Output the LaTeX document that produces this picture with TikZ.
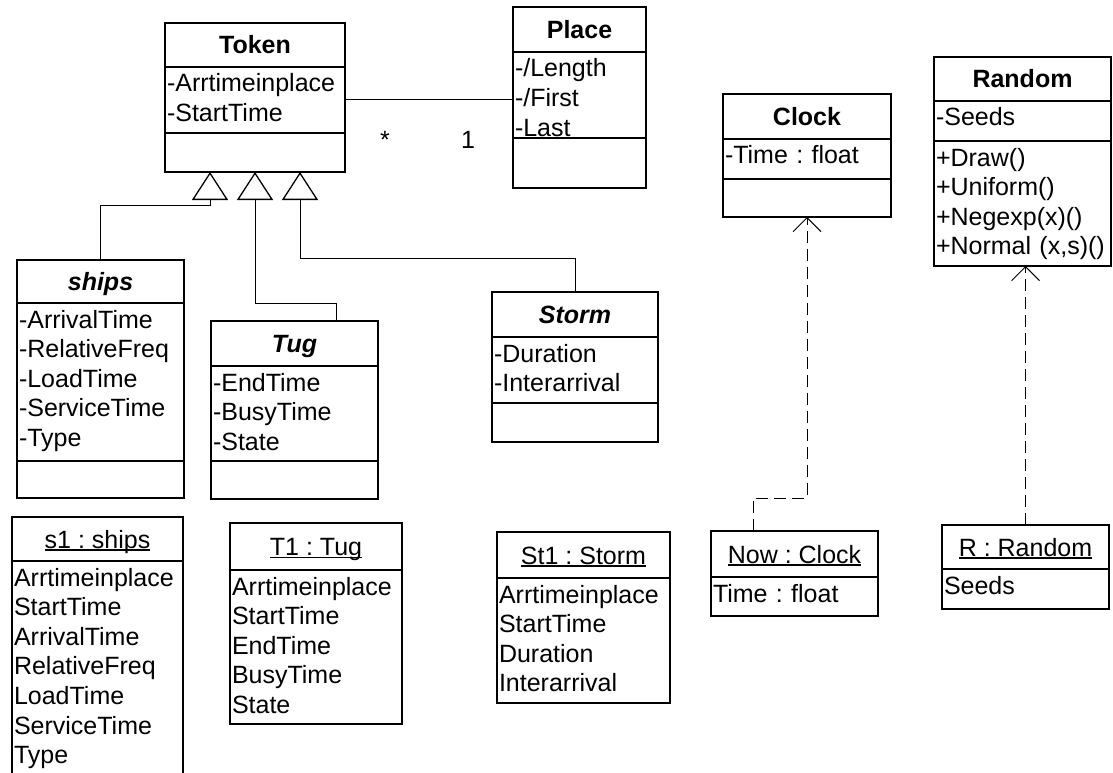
\documentclass[tikz,border=0pt]{standalone}
\usepackage{fontspec}
\setmainfont{Liberation Sans}
\usetikzlibrary{arrows.meta,calc,positioning}

\newcommand{\umlfont}{\fontsize{25pt}{29.6pt}\selectfont\frenchspacing}
\newsavebox{\objbox}
\newcommand{\objname}[1]{\sbox{\objbox}{#1}\rlap{\rule[-2.5pt]{\wd\objbox}{1.2pt}}\usebox{\objbox}}

\tikzset{
  box/.style={draw, line width=2pt, outer sep=0pt, inner xsep=2pt, inner ysep=0pt},
  classhead/.style={box, anchor=north west, minimum width=#1, minimum height=45pt,
    text height=18pt, text depth=0pt, font=\umlfont\bfseries},
  abstracthead/.style={classhead=#1, font=\umlfont\bfseries\itshape},
  objhead/.style={classhead=#1, font=\umlfont},
  attrs/.style 2 args={box, anchor=north, text width=#1, align=left,
    text height=25pt, text depth=#2, font=\umlfont},
  emptybox/.style={box, anchor=north, minimum width=#1, minimum height=38pt},
  gen/.style={line width=1pt, -{Triangle[open, length=28pt, width=36pt, line width=1.3pt]}},
  dep/.style={line width=1pt, dash pattern=on 12pt off 6pt,
    -{Straight Barb[length=14pt, width=28pt, line width=1pt]}},
  assoc/.style={line width=1pt}
}

\begin{document}
\begin{tikzpicture}[x=1pt, y=1pt]

\useasboundingbox (0,0) rectangle (1113,-773);

% Token
\node[classhead=180pt, minimum height=44pt] (tokenhead) at (165,-23) {Token};
\node[attrs={176pt}{41pt}, below=0pt of tokenhead] (tokenattr) {-Arrtimeinplace\\-StartTime};
\node[emptybox=180pt, minimum height=39pt, below=0pt of tokenattr] (tokenops) {};

% Place
\node[classhead=133pt] (placehead) at (513,-7) {Place};
\node[attrs={129pt}{61pt}, below=0pt of placehead] (placeattr) {-/Length\\-/First\\-Last};
\node[emptybox=133pt, minimum height=50pt, below=0pt of placeattr] (placeops) {};

% association Token -- Place
\draw[assoc] (tokenattr.east) -- (tokenattr.east -| placeattr.west);
\node[anchor=base, font=\umlfont] (manytokens) at (385,-148) {*};
\node[anchor=base, font=\umlfont] (oneplace) at (468,-148) {1};

% ships
\node[abstracthead=167pt, minimum height=43pt] (shipshead) at (17,-260) {ships};
\node[attrs={163pt}{133pt}, below=0pt of shipshead] (shipsattr)
  {-ArrivalTime\\-RelativeFreq\\-LoadTime\\-ServiceTime\\-Type};
\node[emptybox=167pt, minimum height=37pt, below=0pt of shipsattr] (shipsops) {};

% Tug
\node[abstracthead=167pt] (tughead) at (211,-321) {Tug};
\node[attrs={163pt}{70pt}, below=0pt of tughead] (tugattr) {-EndTime\\-BusyTime\\-State};
\node[emptybox=167pt, below=0pt of tugattr] (tugops) {};

% Storm
\node[abstracthead=166pt] (stormhead) at (492,-292) {Storm};
\node[attrs={162pt}{41pt}, below=0pt of stormhead] (stormattr) {-Duration\\-Interarrival};
\node[emptybox=166pt, minimum height=39pt, below=0pt of stormattr] (stormops) {};

% Clock
\node[classhead=168pt] (clockhead) at (723,-94) {Clock};
\node[attrs={164pt}{15pt}, below=0pt of clockhead] (clockattr) {-Time : float};
\node[emptybox=168pt, below=0pt of clockattr] (clockops) {};

% Random
\node[classhead=177pt, minimum height=44pt] (randomhead) at (934,-57) {Random};
\node[attrs={173pt}{15pt}, below=0pt of randomhead] (randomattr) {-Seeds};
\node[attrs={173pt}{100pt}, below=0pt of randomattr] (randomops)
  {+Draw()\\+Uniform()\\+Negexp(x)()\\+Normal (x,s)()};

% generalisation
\draw[gen] (shipshead.north) -- ++(0,55) -| ($(tokenops.south)+(-45,0)$);
\draw[gen] ($(tughead.north east)+(-42,0)$) -- ++(0,18) -| (tokenops.south);
\draw[gen] (stormhead.north) -- ++(0,34) -| ($(tokenops.south)+(45,0)$);

% objects
\node[objhead=171pt, minimum height=44pt] (s1head) at (12,-517) {\objname{s1 : ships}};
\node[attrs={167pt}{191pt}, below=0pt of s1head] (s1attr)
  {Arrtimeinplace\\StartTime\\ArrivalTime\\RelativeFreq\\LoadTime\\ServiceTime\\Type};

\node[objhead=172pt, minimum height=47pt] (t1head) at (230,-523) {\objname{T1 : Tug}};
\node[attrs={168pt}{129pt}, below=0pt of t1head] (t1attr)
  {Arrtimeinplace\\StartTime\\EndTime\\BusyTime\\State};

\node[objhead=173pt, minimum height=46pt] (st1head) at (497,-532) {\objname{St1 : Storm}};
\node[attrs={169pt}{100pt}, below=0pt of st1head] (st1attr)
  {Arrtimeinplace\\StartTime\\Duration\\Interarrival};

\node[objhead=167pt, minimum height=46pt] (nowhead) at (711,-531) {\objname{Now : Clock}};
\node[attrs={163pt}{14pt}, below=0pt of nowhead] (nowattr) {Time : float};

\node[objhead=167pt, minimum height=44pt] (rhead) at (942,-525) {\objname{R : Random}};
\node[attrs={163pt}{15pt}, below=0pt of rhead] (rattr) {Seeds};

% instance of
\draw[dep] ($(nowhead.north west)+(42,0)$) -- ++(0,33) -| (clockops.south);
\draw[dep] (rhead.north) -- (rhead.north |- randomops.south);

\end{tikzpicture}
\end{document}
